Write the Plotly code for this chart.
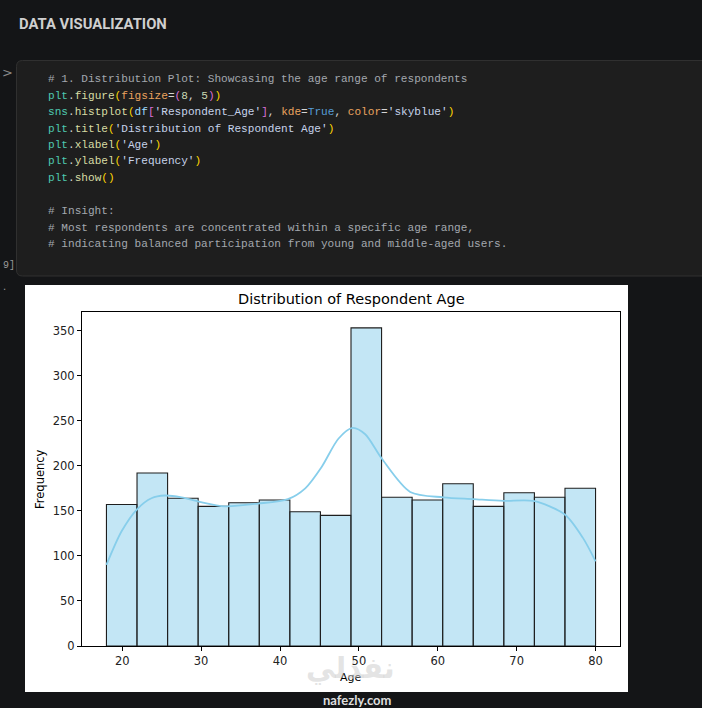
import numpy as np
import plotly.graph_objects as go

# histogram of respondent age (16 bins between 18 and 80)
age_min = 18
age_max = 80
bin_counts = [157, 192, 164, 155, 159, 162, 149, 145, 353,
              165, 162, 180, 155, 170, 165, 175]

# kde curve (scaled to counts)
kde_age = [18.0, 19.9, 21.9, 23.7, 25.4, 27.5, 29.8, 33.0, 37.2, 41.0,
           43.2, 45.3, 47.4, 49.2, 50.8, 52.9, 56.5, 60.7, 64.5, 68.3,
           72.1, 76.1, 78.4, 80.0]
kde_freq = [90, 127, 152, 164, 167, 165, 160, 155, 158, 163,
            175, 199, 230, 242, 235, 208, 171, 165, 163, 161,
            161, 146, 120, 94]

x_ticks = [20, 30, 40, 50, 60, 70, 80]
y_ticks = [0, 50, 100, 150, 200, 250, 300, 350]

code_lines = [
    [("# 1. Distribution Plot: Showcasing the age range of respondents", "cmt")],
    [("plt", "mod"), (".", "pun"), ("figure", "fn"), ("(", "br1"), ("figsize", "kw"),
     ("=", "pun"), ("(", "br2"), ("8", "num"), (", ", "pun"), ("5", "num"),
     (")", "br2"), (")", "br1")],
    [("sns", "mod"), (".", "pun"), ("histplot", "fn"), ("(", "br1"), ("df", "var"),
     ("[", "br2"), ("'Respondent_Age'", "str"), ("]", "br2"), (", ", "pun"),
     ("kde", "kw"), ("=", "pun"), ("True", "bool"), (", ", "pun"), ("color", "kw"),
     ("=", "pun"), ("'skyblue'", "str"), (")", "br1")],
    [("plt", "mod"), (".", "pun"), ("title", "fn"), ("(", "br1"),
     ("'Distribution of Respondent Age'", "str"), (")", "br1")],
    [("plt", "mod"), (".", "pun"), ("xlabel", "fn"), ("(", "br1"), ("'Age'", "str"), (")", "br1")],
    [("plt", "mod"), (".", "pun"), ("ylabel", "fn"), ("(", "br1"), ("'Frequency'", "str"), (")", "br1")],
    [("plt", "mod"), (".", "pun"), ("show", "fn"), ("(", "br1"), (")", "br1")],
    [],
    [("# Insight:", "cmt")],
    [("# Most respondents are concentrated within a specific age range,", "cmt")],
    [("# indicating balanced participation from young and middle-aged users.", "cmt")],
]
syntax = {
    "cmt": "#a3a8ae", "mod": "#4ec9b0", "fn": "#d7dca4", "pun": "#d4d4d4",
    "br1": "#ffd700", "br2": "#da70d6", "kw": "#eaa35e", "num": "#c9d9b4",
    "var": "#9cdcfe", "str": "#c6d3ea", "bool": "#569cd6",
}

W, H = 702, 708
L, R, T, B = 82, 620, 312, 646  # plot area in pixels
PAGE_BG = "#141517"


def px(x):
    return (x - L) / (R - L)


def py(y):
    return (B - y) / (B - T)


def note(text, x, y, size, color, family="DejaVu Sans", xanchor="left", **kw):
    return dict(text=text, x=px(x), y=py(y), xref="paper", yref="paper",
                xanchor=xanchor, yanchor="middle", showarrow=False,
                font=dict(family=family, size=size, color=color), **kw)


edges = np.linspace(age_min, age_max, len(bin_counts) + 1)
centers = (edges[:-1] + edges[1:]) / 2
bin_w = edges[1] - edges[0]
span = age_max - age_min

fig = go.Figure()
fig.add_trace(go.Bar(
    x=centers, y=bin_counts, width=bin_w,
    marker=dict(color="rgba(135,206,235,0.5)",
                line=dict(color="rgba(30,30,30,1)", width=1.1)),
    showlegend=False,
))
fig.add_trace(go.Scatter(
    x=kde_age, y=kde_freq, mode="lines",
    line=dict(color="#87ceeb", width=1.8, shape="spline", smoothing=0.8),
    showlegend=False,
))

shapes = [
    # chart image background
    dict(type="rect", xref="paper", yref="paper", layer="below",
         x0=px(25), x1=px(628), y0=py(692), y1=py(285),
         fillcolor="white", line=dict(width=0)),
]
# code cell with rounded left corners
x0, x1, y0, y1, r = 16.5, 712, 60.5, 276, 6
cell = (f"M {px(x1)},{py(y0)} L {px(x0 + r)},{py(y0)} "
        f"Q {px(x0)},{py(y0)} {px(x0)},{py(y0 + r)} "
        f"L {px(x0)},{py(y1 - r)} Q {px(x0)},{py(y1)} {px(x0 + r)},{py(y1)} "
        f"L {px(x1)},{py(y1)} Z")
shapes.append(dict(type="path", xref="paper", yref="paper", layer="below",
                   path=cell, fillcolor="#1e1e1e",
                   line=dict(color="#303030", width=1)))

annotations = [
    note("<b>DATA VISUALIZATION</b>", 17, 24, 14.8, "#cfcfcf", family="Roboto"),
    note(">", 0, 72, 13, "#8a8a8a"),
    note("9]", 1, 265, 10, "#9a9a9a", family="Liberation Mono"),
    note(".", 1, 286, 10, "#9a9a9a"),
]
for i, toks in enumerate(code_lines):
    if not toks:
        continue
    html = "".join(f'<span style="color:{syntax[k]}">{t}</span>' for t, k in toks)
    annotations.append(note(html, 46, 79 + 16.5 * i, 11.1, "#d4d4d4",
                            family="Liberation Mono"))

annotations += [
    note("Distribution of Respondent Age", (L + R) / 2, 299, 14.5, "black",
         xanchor="center"),
    note("Frequency", 40, (T + B) / 2, 11.5, "black", xanchor="center", textangle=-90),
    note("Age", (L + R) / 2, 677, 11, "black", xanchor="center"),
    note("<b>نفذلي</b>", 350, 668, 29, "rgba(205,205,205,0.55)", xanchor="center"),
    note("<b>nafezly.com</b>", 357, 700, 13, "#dedede", family="Lato", xanchor="center"),
]

fig.update_layout(
    width=W, height=H,
    margin=dict(l=L, r=W - R, t=T, b=H - B, autoexpand=False),
    paper_bgcolor=PAGE_BG, plot_bgcolor="white",
    shapes=shapes, annotations=annotations,
    font=dict(family="DejaVu Sans", size=11, color="#222"),
    xaxis=dict(range=[age_min - 0.05 * span, age_max + 0.05 * span],
               tickvals=x_ticks, ticks="outside", ticklen=4, tickcolor="black",
               showline=True, linecolor="black", linewidth=1, mirror=True,
               showgrid=False, zeroline=False,
               tickfont=dict(family="DejaVu Sans", size=11.5, color="#222")),
    yaxis=dict(range=[0, max(bin_counts) * 1.05],
               tickvals=y_ticks, ticks="outside", ticklen=4, tickcolor="black",
               showline=True, linecolor="black", linewidth=1, mirror=True,
               showgrid=False, zeroline=False,
               tickfont=dict(family="DejaVu Sans", size=11.5, color="#222")),
)

fig.write_html(
    "out.html", config={"displayModeBar": False},
    post_script=f"document.body.style.margin='0';"
                f"document.body.style.background='{PAGE_BG}';",
)
